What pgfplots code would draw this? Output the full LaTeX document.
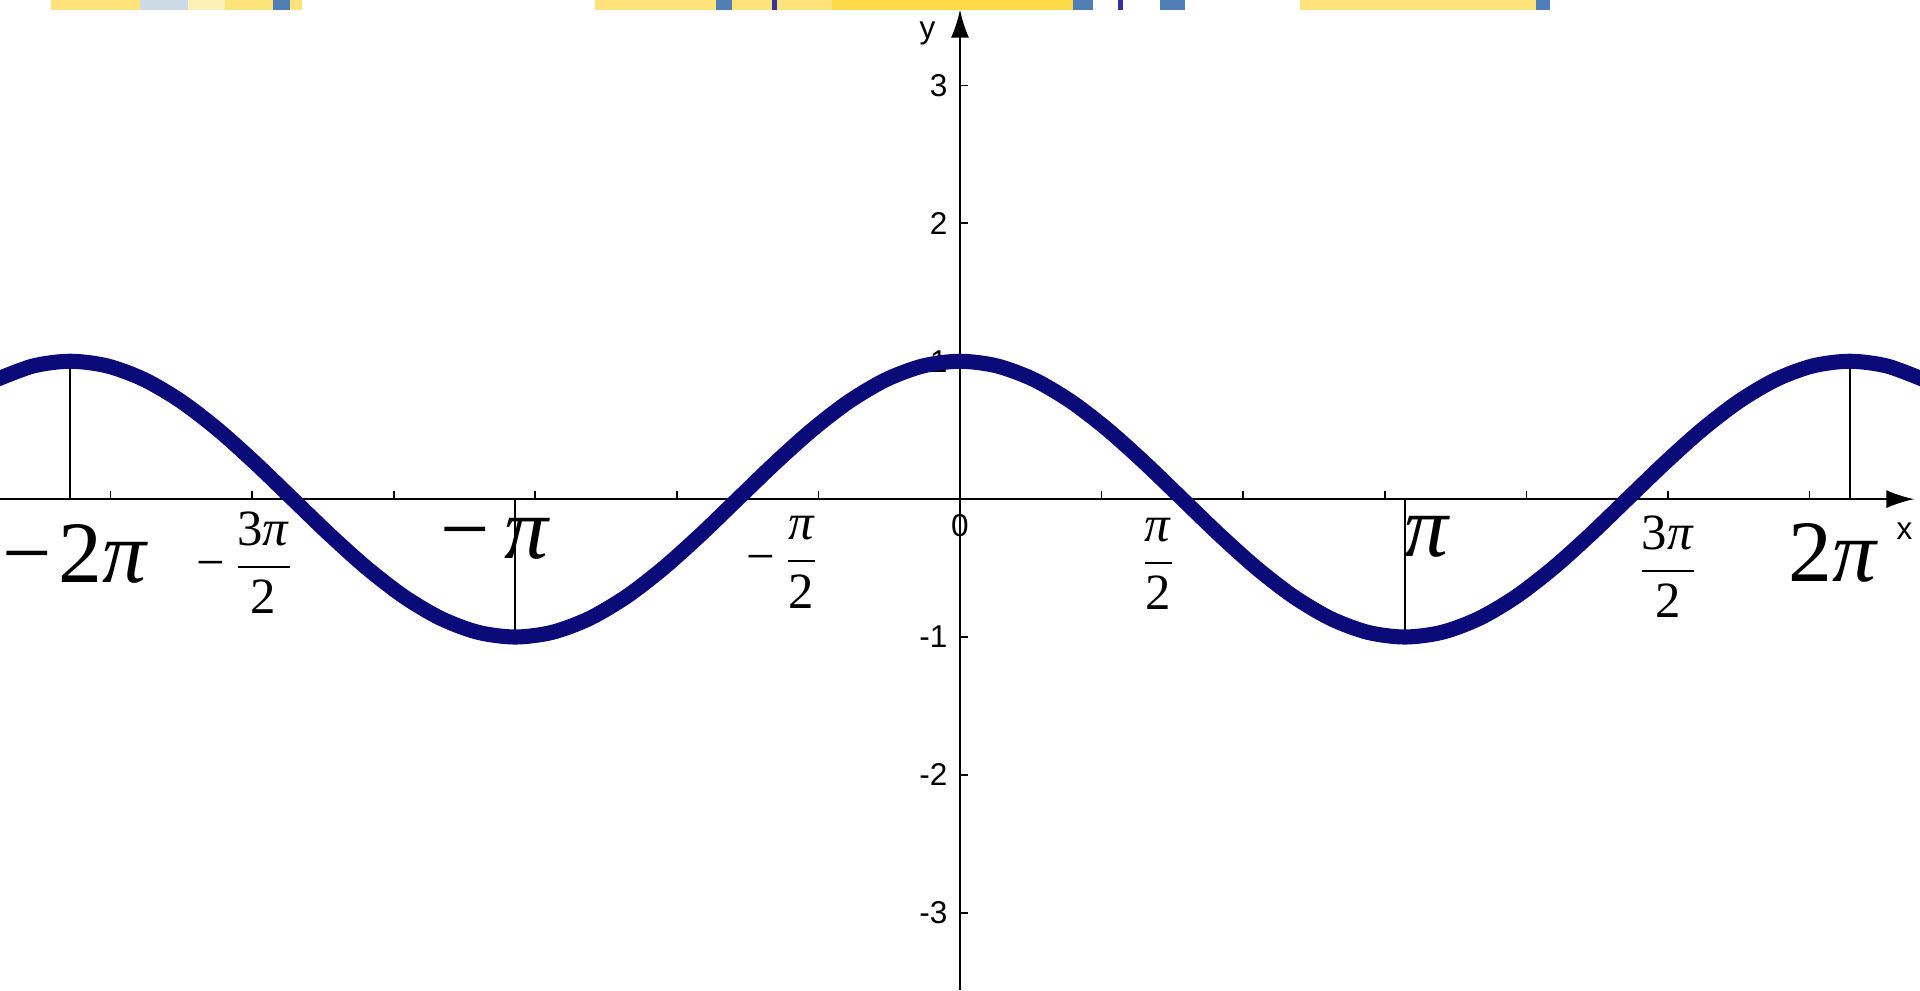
\documentclass[border=0pt]{standalone}
\usepackage{fontspec}
\setmainfont{Liberation Serif}
\newfontfamily\tickfont{Liberation Sans}
\usepackage{amsmath}
\usepackage{pgfplots}
\usepackage{pgfplotstable}
\pgfplotsset{compat=1.18}
\usetikzlibrary{arrows.meta}

\definecolor{curvecol}{HTML}{0A0A78}
\definecolor{ylight}{HTML}{FFE27A}
\definecolor{ysat}{HTML}{FFDA48}
\definecolor{ypale}{HTML}{FFF0B8}
\definecolor{bpale}{HTML}{CCDAE8}
\definecolor{bsteel}{HTML}{4F7FB5}
\definecolor{bdark}{HTML}{3232A0}

% cosine curve, every pi/12
\pgfplotstableread{
x y
-6.8068 0.8660
-6.5450 0.9659
-6.2832 1.0000
-6.0214 0.9659
-5.7596 0.8660
-5.4978 0.7071
-5.2360 0.5000
-4.9742 0.2588
-4.7124 0.0000
-4.4506 -0.2588
-4.1888 -0.5000
-3.9270 -0.7071
-3.6652 -0.8660
-3.4034 -0.9659
-3.1416 -1.0000
-2.8798 -0.9659
-2.6180 -0.8660
-2.3562 -0.7071
-2.0944 -0.5000
-1.8326 -0.2588
-1.5708 0.0000
-1.3090 0.2588
-1.0472 0.5000
-0.7854 0.7071
-0.5236 0.8660
-0.2618 0.9659
0.0000 1.0000
0.2618 0.9659
0.5236 0.8660
0.7854 0.7071
1.0472 0.5000
1.3090 0.2588
1.5708 0.0000
1.8326 -0.2588
2.0944 -0.5000
2.3562 -0.7071
2.6180 -0.8660
2.8798 -0.9659
3.1416 -1.0000
3.4034 -0.9659
3.6652 -0.8660
3.9270 -0.7071
4.1888 -0.5000
4.4506 -0.2588
4.7124 0.0000
4.9742 0.2588
5.2360 0.5000
5.4978 0.7071
5.7596 0.8660
6.0214 0.9659
6.2832 1.0000
6.5450 0.9659
6.8068 0.8660
}\costable

\newcommand{\biglab}{\fontsize{25}{28}\selectfont}
\newcommand{\fraclab}{\fontsize{14.5}{17}\selectfont}
\newcommand{\smalllab}{\tickfont\fontsize{9}{10}\selectfont}
\newcommand{\fr}[2]{$\dfrac{\text{#1}}{\text{#2}}$}

\begin{document}
\begin{tikzpicture}
\begin{axis}[
  scale only axis,
  width=19.2cm, height=9.833cm,
  xmin=-6.78, xmax=6.74, ymin=-3.56, ymax=3.55,
  axis lines=middle,
  axis line style={line width=0.6pt, -{Latex[length=2.8mm,width=1.8mm]}},
  xtick={-6,...,6}, ytick={-3,...,3},
  xticklabels={}, yticklabels={},
  tick align=inside,
  major tick length=0.08cm,
  tick style={line width=0.5pt, black},
  clip=false,
]
\coordinate (BL) at (axis cs:-6.78,-3.56);
\coordinate (TR) at (axis cs:6.78,3.62);

% y tick labels
\node[anchor=east, inner sep=1pt, font=\smalllab] at (axis cs:-0.06,3) {3};
\node[anchor=east, inner sep=1pt, font=\smalllab] at (axis cs:-0.06,2) {2};
\node[anchor=east, inner sep=1pt, font=\smalllab] at (axis cs:-0.06,1) {1};
\node[anchor=east, inner sep=1pt, font=\smalllab] at (axis cs:-0.06,-1) {-1};
\node[anchor=east, inner sep=1pt, font=\smalllab] at (axis cs:-0.06,-2) {-2};
\node[anchor=east, inner sep=1pt, font=\smalllab] at (axis cs:-0.06,-3) {-3};
\node[font=\smalllab] at (axis cs:0,-0.19) {0};
\node[font=\smalllab] at (axis cs:6.67,-0.23) {x};
\node[font=\smalllab] at (axis cs:-0.23,3.38) {y};

% pi labels
\node[font=\biglab, inner sep=0pt, anchor=west] at (axis cs:-6.77,-0.40) {−\kern0.08em2\textit{π}};
\node[font=\fraclab, inner sep=0pt] at (axis cs:-5.05,-0.46) {−\,\fr{3\textit{π}}{2}};
\node[font=\biglab, inner sep=0pt] at (axis cs:-3.28,-0.29) {−\,\textit{π}};
\node[font=\fraclab, inner sep=0pt] at (axis cs:-1.25,-0.46) {−\,\fr{\textit{π}}{2}};
\node[font=\fraclab, inner sep=0pt] at (axis cs:1.40,-0.47) {\fr{\textit{π}}{2}};
\node[font=\biglab, inner sep=0pt] at (axis cs:3.30,-0.27) {\textit{π}};
\node[font=\fraclab, inner sep=0pt] at (axis cs:5.00,-0.49) {\fr{3\textit{π}}{2}};
\node[font=\biglab, inner sep=0pt] at (axis cs:6.17,-0.39) {2\textit{π}};

% thin drop lines at the extrema
\addplot[black, line width=0.5pt] coordinates {(-6.2832,0) (-6.2832,1)};
\addplot[black, line width=0.5pt] coordinates {(-3.1416,0) (-3.1416,-1)};
\addplot[black, line width=0.5pt] coordinates {(3.1416,0) (3.1416,-1)};
\addplot[black, line width=0.5pt] coordinates {(6.2832,0) (6.2832,1)};

\addplot[curvecol, line width=4.3pt, smooth] table {\costable};

% slide decoration along the top edge
\fill[ylight] (axis cs:-6.42,3.548) rectangle (axis cs:-4.65,3.62);
\fill[bpale] (axis cs:-5.79,3.548) rectangle (axis cs:-5.45,3.62);
\fill[ypale] (axis cs:-5.45,3.548) rectangle (axis cs:-5.19,3.62);
\fill[bsteel] (axis cs:-4.85,3.548) rectangle (axis cs:-4.73,3.62);
\fill[ylight] (axis cs:-2.578,3.548) rectangle (axis cs:-0.904,3.62);
\fill[ysat] (axis cs:-0.904,3.548) rectangle (axis cs:0.80,3.62);
\fill[bsteel] (axis cs:-1.723,3.548) rectangle (axis cs:-1.610,3.62);
\fill[bdark] (axis cs:-1.328,3.548) rectangle (axis cs:-1.292,3.62);
\fill[bsteel] (axis cs:0.798,3.548) rectangle (axis cs:0.939,3.62);
\fill[bdark] (axis cs:1.116,3.548) rectangle (axis cs:1.150,3.62);
\fill[bsteel] (axis cs:1.412,3.548) rectangle (axis cs:1.589,3.62);
\fill[ylight] (axis cs:2.40,3.548) rectangle (axis cs:4.09,3.62);
\fill[bsteel] (axis cs:4.07,3.548) rectangle (axis cs:4.17,3.62);
\end{axis}
\pgfresetboundingbox
\useasboundingbox (BL) rectangle (TR);
\end{tikzpicture}
\end{document}
